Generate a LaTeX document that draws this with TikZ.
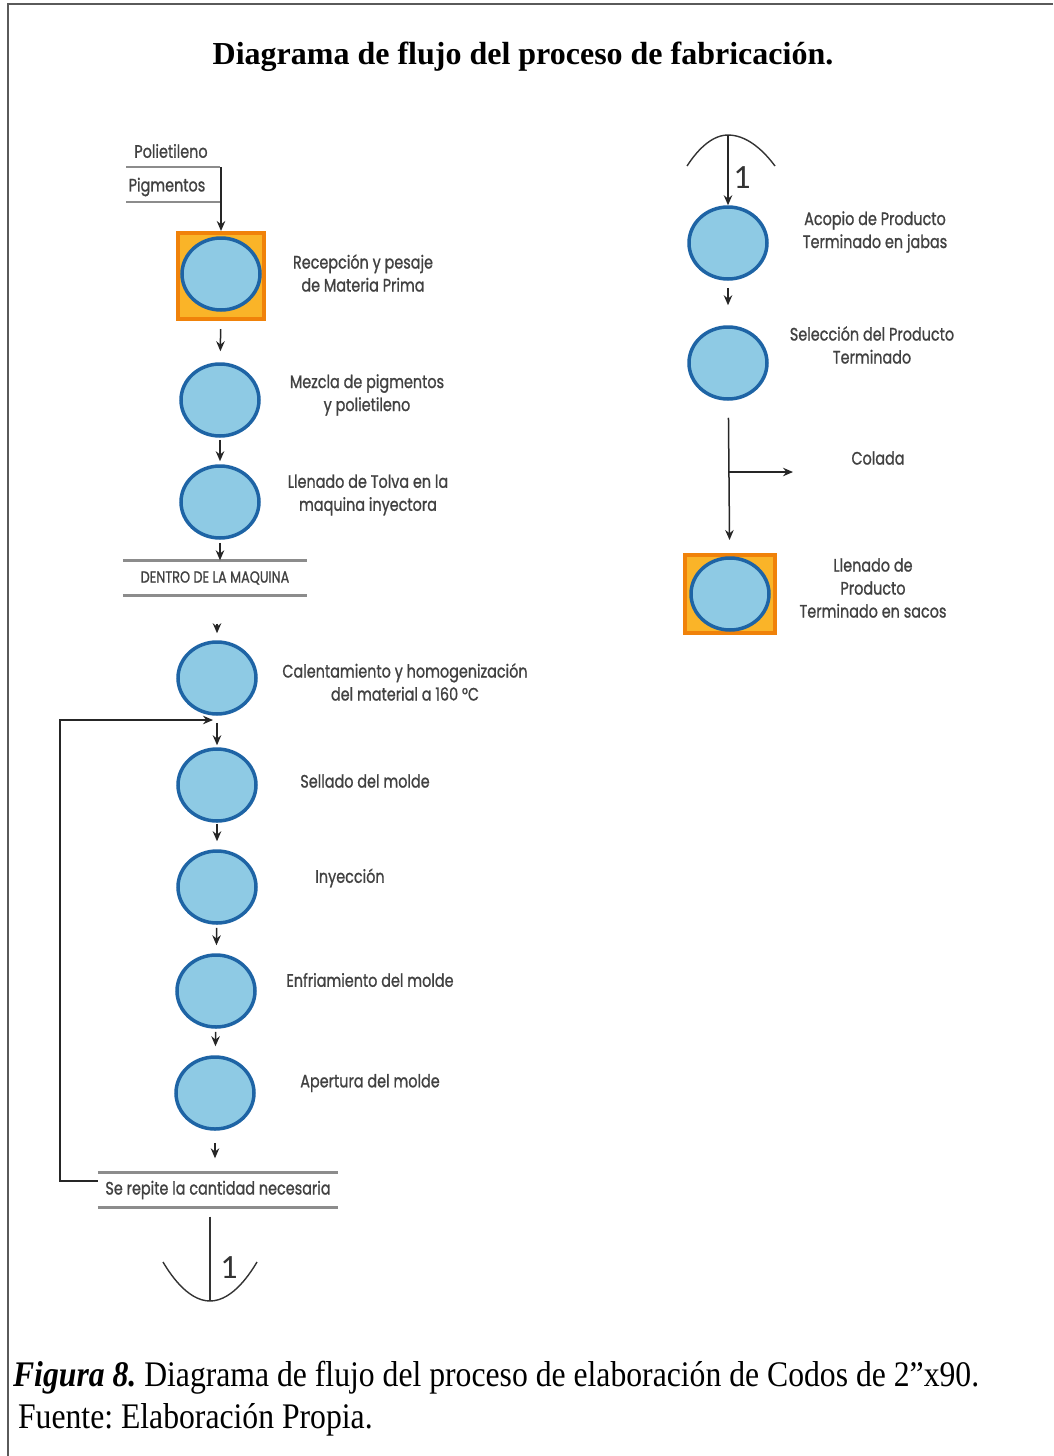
\documentclass[tikz,border=0pt]{standalone}
\usepackage{fontspec}
\setmainfont{Liberation Serif}
\newfontfamily\diagfont[FakeBold=1.2]{Poppins}
\newfontfamily\numfont{Carlito}
\usetikzlibrary{arrows.meta,shapes.geometric,positioning}
\frenchspacing

\definecolor{procfill}{RGB}{142,202,228}
\definecolor{procdraw}{RGB}{30,100,165}
\definecolor{storefill}{RGB}{250,180,40}
\definecolor{storedraw}{RGB}{240,130,10}
\definecolor{labelgray}{RGB}{65,65,65}
\definecolor{bargray}{RGB}{140,140,140}
\definecolor{framegray}{RGB}{90,90,90}

\tikzset{
  proc/.style={ellipse, draw=procdraw, line width=3.5pt, fill=procfill,
    minimum width=78pt, minimum height=72pt, inner sep=0pt},
  store/.style={rectangle, draw=storedraw, line width=4pt, fill=storefill,
    minimum width=86pt, minimum height=86pt, inner sep=0pt},
  lbl/.style={font=\diagfont\fontsize{18}{23}\selectfont, text=labelgray,
    align=center, xscale=0.8, transform shape},
  flow/.style={-{Stealth[length=10pt,width=8.5pt]}, line width=1.5pt, draw=black!85},
  link/.style={line width=1.4pt, draw=black!80},
  barline/.style={draw=bargray, line width=3pt},
  bar/.style={lbl, minimum width=300pt, minimum height=35pt, inner sep=0pt},
}

\begin{document}
\begin{tikzpicture}[x=1pt,y=-1pt]

  \useasboundingbox (0,0) rectangle (1053,1456);
  \draw[framegray, line width=1.5pt] (8,1456) -- (8,4) -- (1053,4);

  \node[font=\bfseries\fontsize{32}{38}\selectfont] (title) at (523,57)
    {Diagrama de flujo del proceso de fabricación.};

  % entradas
  \node[lbl] (poli) at (171,151) {Polietileno};
  \node[lbl] (pigm) at (167,187) {Pigmentos};
  \draw[bargray, line width=2pt] (126,167) -- (220,167);
  \draw[bargray, line width=2pt] (126,202) -- (220,202);
  \coordinate (inpt) at (221,167);

  % columna izquierda
  \node[store] (recsq) at (221,276) {};
  \node[proc] (rec) at (221,274) {};
  \node[proc] (mez) at (220,400) {};
  \node[proc] (tol) at (220,502) {};
  \node[bar, minimum width=230pt, font=\diagfont\fontsize{16}{20}\selectfont] (dentro) at (215,578) {DENTRO DE LA MAQUINA};
  \draw[barline] (dentro.north west) -- (dentro.north east);
  \draw[barline] (dentro.south west) -- (dentro.south east);
  \node[proc] (cal) at (217,678) {};
  \node[proc] (sel) at (217,785) {};
  \node[proc] (iny) at (217,887) {};
  \node[proc] (enf) at (216,991) {};
  \node[proc] (ape) at (215,1093) {};
  \node[bar] (rep) at (218,1190) {Se repite la cantidad necesaria};
  \draw[barline] (rep.north west) -- (rep.north east);
  \draw[barline] (rep.south west) -- (rep.south east);

  \node[lbl] (lrec) at (363,273) {Recepción y pesaje\\de Materia Prima};
  \node[lbl] (lmez) at (367,395) {Mezcla de pigmentos\\y polietileno};
  \node[lbl] (ltol) at (368,495) {Llenado de Tolva en la\\maquina inyectora};
  \node[lbl] (lcal) at (405,682) {Calentamiento y homogenización\\del material a 160 °C};
  \node[lbl] (lsel) at (365,781) {Sellado del molde};
  \node[lbl] (liny) at (350,878) {Inyección};
  \node[lbl] (lenf) at (370,980) {Enfriamiento del molde};
  \node[lbl] (lape) at (370,1083) {Apertura del molde};

  \draw[flow] (inpt) -- (recsq);
  \draw[flow, shorten <=8pt, shorten >=11pt] (recsq) -- (mez);
  \draw[flow, shorten <=2pt, shorten >=3pt] (mez) -- (tol);
  \draw[flow, shorten <=3pt] (tol.south) -- (dentro.north -| tol);
  \draw[flow, shorten <=28pt, shorten >=7pt] (dentro.south -| cal) -- (cal);
  \draw[flow, shorten <=7pt, shorten >=2pt] (cal) -- (sel);
  \draw[flow, shorten <=1pt, shorten >=8pt] (sel) -- (iny);
  \draw[flow, shorten <=3pt, shorten >=8pt] (iny) -- (enf);
  \draw[flow, shorten <=3pt, shorten >=9pt] (enf) -- (ape);
  \draw[flow, shorten <=12pt, shorten >=14pt] (ape.south) -- (rep.north -| ape);

  % retorno
  \coordinate (loopin) at (213,720);
  \draw[flow] ([yshift=9pt]rep.west) -| (60,720) -- (loopin);

  % conector de salida
  \coordinate (offl) at (210,1301);
  \draw[link, shorten <=9pt] (rep.south -| offl) -- (offl);
  \draw[link] (163,1262) parabola bend (offl) (257,1262);
  \node[font=\numfont\fontsize{34}{34}\selectfont, text=black!80] (off1) at (229,1268) {1};

  % columna derecha
  \coordinate (onr) at (728,135);
  \draw[link] (687,166) parabola bend (onr) (775,166);
  \node[font=\numfont\fontsize{34}{34}\selectfont, text=black!80] (on1) at (742,178) {1};
  \node[proc] (aco) at (728,243) {};
  \node[proc] (seles) at (728,363) {};
  \node[store, minimum width=90pt, minimum height=78pt] (llsq) at (730,594) {};
  \node[proc] (llen) at (730,594) {};
  \coordinate (split) at (728,472);
  \coordinate (colout) at (793,472);

  \node[lbl] (laco) at (875,232) {Acopio de Producto\\Terminado en jabas};
  \node[lbl] (lseles) at (872,345) {Selección del Producto\\Terminado};
  \node[lbl] (colada) at (878,458) {Colada};
  \node[lbl] (lllen) at (873,588) {Llenado de\\Producto\\Terminado en sacos};

  \draw[flow] (onr) -- (aco);
  \draw[flow, shorten <=7pt, shorten >=20pt] (aco) -- (seles);
  \draw[flow, shorten <=17pt, shorten >=13pt] (seles) -- (llsq);
  \draw[flow] (split) -- (colout);

  % pie de figura
  \node[anchor=west, font=\fontsize{36}{40}\selectfont, xscale=0.88, transform shape] (cap) at (10,1378)
    {\textbf{\textit{Figura 8.}} Diagrama de flujo del proceso de elaboración de Codos de 2”x90.};
  \node[anchor=west, font=\fontsize{36}{40}\selectfont, xscale=0.88, transform shape] (src) at (15,1420)
    {Fuente: Elaboración Propia.};

\end{tikzpicture}
\end{document}
